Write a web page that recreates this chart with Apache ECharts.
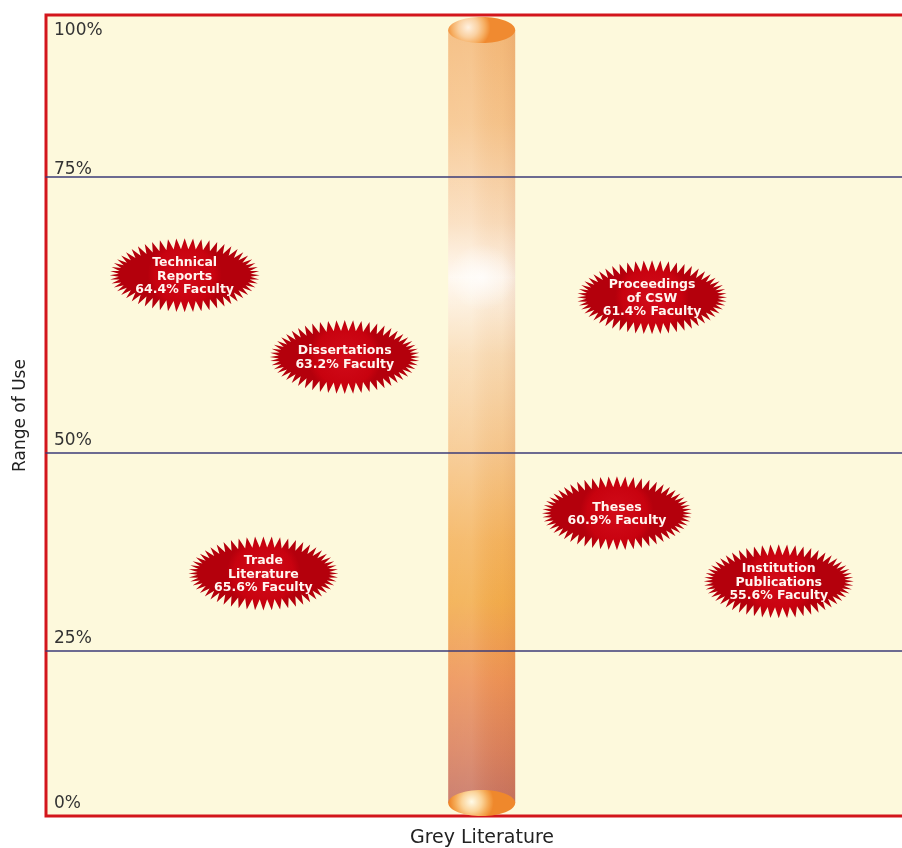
<!DOCTYPE html>
<html>
<head>
<meta charset="utf-8">
<script src="https://cdn.jsdelivr.net/npm/echarts@6/dist/echarts.min.js"></script>
<style>
  html, body { margin: 0; padding: 0; background: #ffffff; }
  #chart { width: 902px; height: 848px; }
</style>
</head>
<body>
<div id="chart"></div>
<script>
// ---------- data ----------
const labels = ['Technical\nReports', 'Dissertations', 'Proceedings\nof CSW', 'Theses', 'Trade\nLiterature', 'Institution\nPublications'];
const facultyPct = [64.4, 63.2, 61.4, 60.9, 65.6, 55.6];
const xPosition = [16.2, 34.9, 70.8, 66.7, 25.4, 85.6];   // position along "Grey Literature"
const rangeOfUse = [66.1, 58.7, 64.1, 42.4, 34.8, 33.8];   // % range of use
const yTicks = [100, 75, 50, 25, 0];
const cylinderX = 50.9;
const xAxisName = 'Grey Literature';
const yAxisName = 'Range of Use';

// ---------- layout (pixels) ----------
const segPx = [43, 177, 453, 651, 816];   // y pixel of each tick line (100,75,50,25,0)
const labelLift = [4, -1, 4, 4];
const H = 848, LEFT = 46;
const FONT = 'DejaVu Sans';

const chart = echarts.init(document.getElementById('chart'), null, { renderer: 'canvas' });

const grids = [], xAxes = [], yAxes = [], series = [];

// frame grid (0)
grids.push({ left: LEFT, right: -8, top: 15, bottom: H - 816, show: true, outerBoundsMode: 'none', containLabel: false,
  backgroundColor: '#fdf9dc', borderColor: '#d3161c', borderWidth: 3, z: 0 });
xAxes.push({ gridIndex: 0, type: 'value', min: 0, max: 100, axisLine: { show: false }, axisTick: { show: false },
  axisLabel: { show: false }, splitLine: { show: false },
  name: xAxisName, nameLocation: 'middle', nameGap: 13,
  nameTextStyle: { fontFamily: FONT, fontSize: 19, color: '#222', padding: [0, 0, 0, 8], verticalAlign: 'top' } });
yAxes.push({ gridIndex: 0, type: 'value', min: 0, max: 100, axisLine: { show: false }, axisTick: { show: false },
  axisLabel: { show: false }, splitLine: { show: false },
  name: yAxisName, nameLocation: 'middle', nameGap: 17,
  nameTextStyle: { fontFamily: FONT, fontSize: 17, color: '#222' } });

// segment grids (1..4)
for (let s = 0; s < yTicks.length - 1; s++) {
  const hi = yTicks[s], lo = yTicks[s + 1];
  const gi = grids.length;
  grids.push({ left: LEFT, right: 0, top: segPx[s], bottom: H - segPx[s + 1], outerBoundsMode: 'none', containLabel: false });
  const isLast = s === yTicks.length - 2;
  xAxes.push({ gridIndex: gi, type: 'value', min: 0, max: 100, position: 'bottom', z: 4,
    axisLine: { show: !isLast, lineStyle: { color: '#3d3d78', width: 1.6 } },
    axisTick: { show: false }, axisLabel: { show: false }, splitLine: { show: false } });
  yAxes.push({ gridIndex: gi, type: 'value', min: lo, max: hi, interval: 25,
    axisLine: { show: false }, axisTick: { show: false }, splitLine: { show: false },
    axisLabel: { inside: true, margin: 8, showMinLabel: isLast, showMaxLabel: true,
      formatter: v => v + '%', verticalAlign: 'bottom', padding: [0, 0, labelLift[s], 0],
      fontFamily: FONT, fontSize: 17, color: '#333' } });

  const segData = [];
  rangeOfUse.forEach((v, i) => {
    if (v <= hi && v > lo) segData.push([xPosition[i], v, i]);
  });
  series.push({
    type: 'custom', xAxisIndex: gi, yAxisIndex: gi, clip: false, z: 5,
    data: segData,
    renderItem: function (params, api) {
      const c = api.coord([api.value(0), api.value(1)]);
      const idx = api.value(2);
      const N = 56, ao = 75, bo = 37, ai = 66, bi = 26;
      const pts = [];
      for (let k = 0; k < N * 2; k++) {
        const t = Math.PI * k / N;
        const outer = k % 2 === 0;
        const a = outer ? ao : ai, b = outer ? bo : bi;
        pts.push([c[0] + a * Math.cos(t), c[1] + b * Math.sin(t)]);
      }
      return {
        type: 'group',
        children: [
          { type: 'polygon', shape: { points: pts },
            style: { fill: new echarts.graphic.RadialGradient(0.5, 0.5, 0.5, [
              { offset: 0, color: '#d20c1a' }, { offset: 0.8, color: '#c8020f' }, { offset: 1, color: '#b4000c' }]) } },
          { type: 'text', x: c[0], y: c[1] + 1,
            style: { text: labels[idx] + '\n' + facultyPct[idx] + '% Faculty',
              fill: '#fff6f0', font: 'bold 12.5px "DejaVu Sans"', align: 'center', verticalAlign: 'middle', lineHeight: 13.5 } }
        ]
      };
    }
  });
}

// cylinder grid (5)
const cgi = grids.length;
grids.push({ left: LEFT, right: 0, top: 30, bottom: H - 803, outerBoundsMode: 'none', containLabel: false });
xAxes.push({ gridIndex: cgi, type: 'value', min: 0, max: 100, show: false });
yAxes.push({ gridIndex: cgi, type: 'value', min: 0, max: 100, show: false });
series.push({
  type: 'custom', xAxisIndex: cgi, yAxisIndex: cgi, clip: false, z: 2,
  data: [[cylinderX, 0, 100]],
  renderItem: function (params, api) {
    const top = api.coord([api.value(0), api.value(2)]);
    const bot = api.coord([api.value(0), api.value(1)]);
    const w = 67, rx = w / 2, ry = 13;
    const x0 = top[0] - rx;
    const hgt = bot[1] - top[1];
    return {
      type: 'group',
      children: [
        { type: 'rect', shape: { x: x0, y: top[1], width: w, height: hgt },
          style: { opacity: 0.94, fill: new echarts.graphic.LinearGradient(0, 0, 0, 1, [
            { offset: 0, color: '#f4b674' }, { offset: 0.12, color: '#f6c288' },
            { offset: 0.25, color: '#fadcbc' }, { offset: 0.32, color: '#fff8f0' },
            { offset: 0.42, color: '#f9dbb4' }, { offset: 0.55, color: '#f6c487' },
            { offset: 0.66, color: '#f4b057' }, { offset: 0.74, color: '#f2a843' },
            { offset: 0.84, color: '#ec8c4e' }, { offset: 0.93, color: '#d87955' },
            { offset: 1, color: '#c26a5a' }]) } },
        { type: 'rect', shape: { x: x0, y: top[1], width: w, height: hgt },
          style: { fill: new echarts.graphic.LinearGradient(0, 0, 1, 0, [
            { offset: 0, color: 'rgba(255,255,255,0.10)' }, { offset: 0.35, color: 'rgba(255,255,255,0.12)' },
            { offset: 0.8, color: 'rgba(200,110,40,0.04)' }, { offset: 1, color: 'rgba(180,90,40,0.12)' }]) } },
        { type: 'ellipse', shape: { cx: top[0], cy: top[1] + 0.32 * hgt, rx: rx, ry: 70 },
          style: { fill: new echarts.graphic.RadialGradient(0.5, 0.5, 0.5, [
            { offset: 0, color: 'rgba(255,255,255,0.75)' }, { offset: 1, color: 'rgba(255,255,255,0)' }]) } },
        { type: 'ellipse', shape: { cx: top[0], cy: top[1], rx: rx, ry: ry },
          style: { fill: new echarts.graphic.RadialGradient(0.3, 0.4, 0.85, [
            { offset: 0, color: '#fff1e0' }, { offset: 0.45, color: '#fad0a0' }, { offset: 0.75, color: '#f6ae62' }, { offset: 1, color: '#f08a30' }]) } },
        { type: 'ellipse', shape: { cx: bot[0], cy: bot[1], rx: rx, ry: ry },
          style: { fill: new echarts.graphic.RadialGradient(0.35, 0.45, 0.85, [
            { offset: 0, color: '#fffbe8' }, { offset: 0.45, color: '#fbd49a' }, { offset: 0.75, color: '#f5aa56' }, { offset: 1, color: '#ef882c' }]) } }
      ]
    };
  }
});

chart.setOption({
  animation: false,
  backgroundColor: '#ffffff',
  grid: grids, xAxis: xAxes, yAxis: yAxes, series: series
});
</script>
</body>
</html>
